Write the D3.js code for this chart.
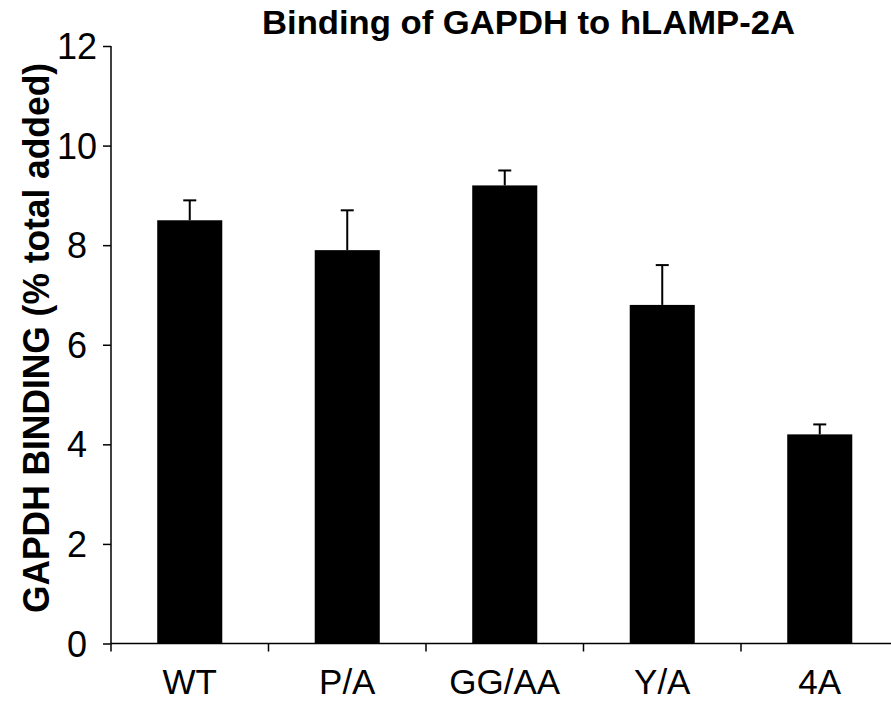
<!DOCTYPE html>
<html><head><meta charset="utf-8">
<script src="https://cdn.jsdelivr.net/npm/d3@7"></script>
<style>body{margin:0;background:#fff}svg{display:block}</style>
</head><body>
<script>
const categories = ["WT", "P/A", "GG/AA", "Y/A", "4A"];
const values = [8.5, 7.9, 9.2, 6.8, 4.2];
const errors = [0.4, 0.8, 0.3, 0.8, 0.2];
const yTicks = [0, 2, 4, 6, 8, 10, 12];
const title = "Binding of GAPDH to hLAMP-2A";
const yLabel = "GAPDH BINDING (% total added)";

const W = 891, H = 702;
const svg = d3.select("body").append("svg").attr("width", W).attr("height", H);
const font = "'Liberation Sans', Arial, sans-serif";

const x = d3.scaleBand().domain(categories).range([111, 898.5]).paddingInner(0).paddingOuter(0);
const y = d3.scaleLinear().domain([0, 12]).range([643.5, 46]);
const barW = x.bandwidth() * 0.413;

// bars
svg.selectAll("rect.bar").data(categories).join("rect")
  .attr("x", d => x(d) + x.bandwidth()/2 - barW/2)
  .attr("y", (d,i) => y(values[i]))
  .attr("width", barW)
  .attr("height", (d,i) => y(0) - y(values[i]))
  .attr("fill", "#000");

// error bars
const eb = svg.append("g").attr("stroke", "#000").attr("stroke-width", 2);
categories.forEach((c, i) => {
  const cx = x(c) + x.bandwidth()/2;
  eb.append("line").attr("x1", cx).attr("x2", cx).attr("y1", y(values[i])).attr("y2", y(values[i] + errors[i]));
  eb.append("line").attr("x1", cx - 6.5).attr("x2", cx + 6.5).attr("y1", y(values[i] + errors[i])).attr("y2", y(values[i] + errors[i]));
});

// y axis
const yAxis = svg.append("g").attr("transform", "translate(111,0)")
  .call(d3.axisLeft(y).tickValues(yTicks).tickSize(8).tickPadding(16).tickFormat(d3.format("d")));
yAxis.select(".domain").attr("stroke", "#000").attr("stroke-width", 1.5).attr("d", `M0,${y(12)}V${y(0)}`);
yAxis.selectAll(".tick line").attr("stroke", "#000").attr("stroke-width", 1.5);
yAxis.selectAll(".tick text").attr("font-family", font).attr("font-size", 36).attr("fill", "#000")
  .attr("text-anchor", "middle").attr("x", -34).attr("dy", "0.35em");

// x axis
const xAxisG = svg.append("g").attr("transform", `translate(0,${y(0)})`);
xAxisG.append("line").attr("x1", 111).attr("x2", 898.5).attr("y1", 0).attr("y2", 0).attr("stroke", "#000").attr("stroke-width", 1.5);
xAxisG.selectAll("line.tk").data(categories).join("line")
  .attr("x1", d => x(d)).attr("x2", d => x(d)).attr("y1", 0).attr("y2", 8)
  .attr("stroke", "#000").attr("stroke-width", 1.5);
xAxisG.selectAll("text").data(categories).join("text")
  .attr("x", d => x(d) + x.bandwidth()/2).attr("y", 50.5)
  .attr("text-anchor", "middle").attr("font-family", font).attr("font-size", 35).attr("fill", "#000")
  .text(d => d);

// title
svg.append("text").attr("x", 528.5).attr("y", 34).attr("text-anchor", "middle")
  .attr("font-family", font).attr("font-weight", "bold").attr("font-size", 33)
  .attr("textLength", 533).attr("lengthAdjust", "spacingAndGlyphs")
  .text(title);

// y label
svg.append("text").attr("transform", "translate(49,338) rotate(-90)").attr("text-anchor", "middle")
  .attr("font-family", font).attr("font-weight", "bold").attr("font-size", 37)
  .attr("textLength", 550).attr("lengthAdjust", "spacingAndGlyphs")
  .text(yLabel);
</script>
</body></html>
